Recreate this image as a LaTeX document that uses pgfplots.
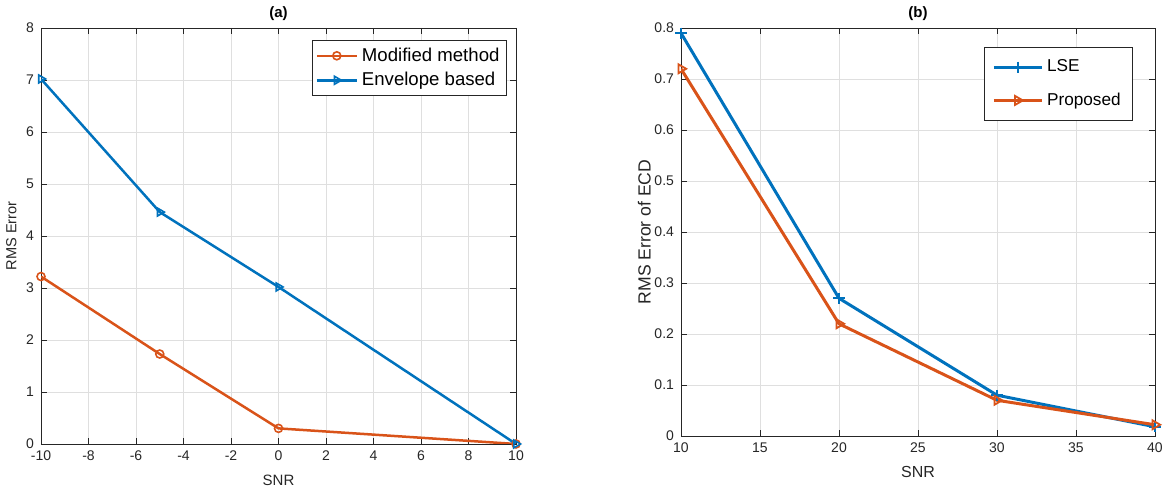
\documentclass[border=0pt]{standalone}
\usepackage{pgfplots}
\pgfplotsset{compat=1.18}
\usepackage{fontspec}
\setmainfont{Liberation Sans}
\definecolor{mblue}{RGB}{0,114,189}
\definecolor{morange}{RGB}{217,83,25}
\definecolor{tickgray}{RGB}{38,38,38}

\pgfplotsset{
  matlab/.style={
    scale only axis,
    axis line style={tickgray, line width=0.4pt},
    tick style={tickgray, line width=0.4pt},
    major tick length=3pt,
    tick align=inside,
    grid=major,
    grid style={gray!25, line width=0.35pt},
    ticklabel style={font=\fontsize{7}{8}\selectfont, text=tickgray},
    /pgf/number format/assume math mode=true,
    label style={text=tickgray},
    title style={font=\fontsize{7.5}{9}\selectfont\bfseries, yshift=-6pt},
    legend cell align=left,
    legend style={draw=tickgray, line width=0.5pt, fill=white, inner sep=1.5pt},
    legend image code/.code={
      \draw[mark repeat=2, mark phase=2] plot coordinates {(0cm,0cm) (0.35cm,0cm) (0.7cm,0cm)};
    },
  }
}

\begin{document}
\begin{tikzpicture}
\useasboundingbox (0,0) rectangle (587.5pt,245pt);

% (a)
\begin{axis}[
  matlab,
  at={(20.5pt,23pt)}, anchor=south west,
  width=237.5pt, height=208pt,
  xmin=-10, xmax=10, ymin=0, ymax=8,
  xtick={-10,-8,...,10}, ytick={0,1,...,8},
  title={(a)},
  xlabel={SNR}, ylabel={RMS Error},
  xlabel style={font=\fontsize{7.5}{9}\selectfont},
  ylabel style={font=\fontsize{7.3}{9}\selectfont},
  ylabel shift=-2pt,
  legend style={at={(0.981,0.971)}, anchor=north east, font=\fontsize{9.3}{10.5}\selectfont},
]
\addplot[morange, line width=1.25pt, mark=o, mark size=2pt, mark options={line width=0.8pt}]
  coordinates {(-10,3.22) (-5,1.73) (0,0.30) (10,0.0)};
\addlegendentry{Modified method}
\addplot[mblue, line width=1.25pt, mark=triangle, mark size=2.3pt, mark options={rotate=-90, line width=0.8pt}]
  coordinates {(-10,7.02) (-5,4.46) (0,3.02) (10,0.0)};
\addlegendentry{Envelope based}
\end{axis}

% (b)
\begin{axis}[
  matlab,
  at={(340.5pt,27pt)}, anchor=south west,
  width=237pt, height=204pt,
  xmin=10, xmax=40, ymin=0, ymax=0.8,
  xtick={10,15,...,40}, ytick={0,0.1,...,0.8},
  yticklabel style={/pgf/number format/fixed, /pgf/number format/precision=1},
  title={(b)},
  xlabel={SNR}, ylabel={RMS Error of ECD},
  xlabel style={font=\fontsize{8}{9}\selectfont},
  ylabel style={font=\fontsize{8.8}{10}\selectfont},
  ylabel shift=-5pt,
  legend image code/.code={
    \draw[mark repeat=2, mark phase=2] plot coordinates {(0cm,0cm) (0.42cm,0cm) (0.84cm,0cm)};
  },
  legend style={at={(0.954,0.953)}, anchor=north east, font=\fontsize{8.6}{10}\selectfont,
    row sep=5pt, inner sep=4pt},
]
\addplot[mblue, line width=1.5pt, mark=+, mark size=2.8pt, mark options={line width=1pt}]
  coordinates {(10,0.79) (20,0.27) (30,0.08) (40,0.018)};
\addlegendentry{LSE}
\addplot[morange, line width=1.5pt, mark=triangle, mark size=2.6pt, mark options={rotate=-90, line width=0.9pt}]
  coordinates {(10,0.72) (20,0.22) (30,0.07) (40,0.022)};
\addlegendentry{Proposed}
\end{axis}
\end{tikzpicture}
\end{document}
